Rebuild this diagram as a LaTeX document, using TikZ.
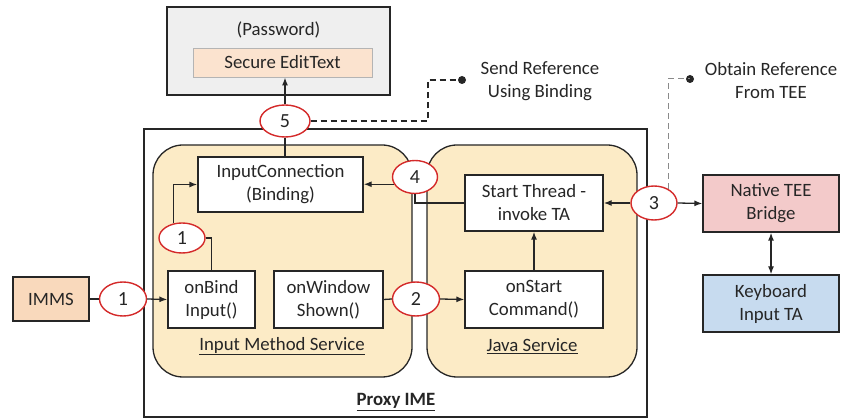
\documentclass[tikz,border=0pt]{standalone}
\usepackage{fontspec}
\setmainfont{Carlito}
\usetikzlibrary{arrows.meta,shapes.geometric,calc}

\definecolor{ink}{HTML}{262626}
\definecolor{pwdgray}{HTML}{EFEFEF}
\definecolor{peach}{HTML}{FBE3CF}
\definecolor{immsfill}{HTML}{F9D9BC}
\definecolor{svcfill}{HTML}{FCEBC6}
\definecolor{teefill}{HTML}{F3CACA}
\definecolor{kbfill}{HTML}{C7DBEF}
\definecolor{stepred}{HTML}{D42A2A}
\definecolor{edgegray}{HTML}{B4B4B4}
\definecolor{dashgray}{HTML}{8A8A8A}

\begin{document}
\begin{tikzpicture}[x=1pt,y=-1pt,
  txt/.style={font=\fontsize{18.8}{23}\selectfont, align=center, text=ink},
  blk/.style={txt, draw=ink, line width=1.3pt, inner sep=0pt},
  whitebox/.style={blk, fill=white},
  svcbox/.style={draw=ink, line width=1.3pt, fill=svcfill, rounded corners=30pt, inner sep=0pt},
  stepmark/.style={ellipse, draw=stepred, line width=1.4pt, fill=white, inner sep=0pt,
    minimum width=47pt, minimum height=34pt, font=\fontsize{20}{20}\selectfont, text=ink},
  wire/.style={draw=ink, line width=1.3pt},
  arr/.style={wire, -{Latex[length=8pt,width=6pt]}},
  dblarr/.style={wire, {Latex[length=8pt,width=6pt]}-{Latex[length=8pt,width=6pt]}},
  dashline/.style={draw=ink, line width=1.3pt, dash pattern=on 6pt off 4pt},
  dashlight/.style={draw=dashgray, line width=1pt, dash pattern=on 6pt off 4pt},
]
\useasboundingbox (0,0) rectangle (843,419);

% password field with its secure text box
\node[blk, fill=pwdgray, minimum width=223pt, minimum height=88pt] (pwd) at (278.5,51) {};
\node[txt] (pwdtitle) at (278.5,30) {(Password)};
\node[txt, draw=edgegray, line width=0.8pt, fill=peach, inner sep=0pt,
      minimum width=179pt, minimum height=29pt] (sec) at (282.5,62.5) {Secure EditText};

% proxy IME container
\node[draw=ink, line width=1.3pt, minimum width=503pt, minimum height=288pt, inner sep=0pt] (proxy) at (395.5,273) {};
\node[txt] (proxytitle) at (396,402) {\underline{\textbf{Proxy IME}}};

% the two services
\node[svcbox, minimum width=259pt, minimum height=232pt] (ims) at (282.5,261) {};
\node[svcbox, minimum width=210pt, minimum height=232pt] (java) at (532,261) {};
\node[txt] (imslabel) at (282,346) {\underline{Input Method Service}};
\node[txt] (javalabel) at (532,346) {\underline{Java Service}};

% components
\node[whitebox, minimum width=165pt, minimum height=55pt] (ic) at (280.5,184.5) {InputConnection\\(Binding)};
\node[whitebox, minimum width=87pt, minimum height=57pt] (obi) at (211.5,299.5) {onBind\\Input()};
\node[whitebox, minimum width=109pt, minimum height=57pt] (ows) at (328.5,299.5) {onWindow\\Shown()};
\node[whitebox, minimum width=138pt, minimum height=56pt] (st) at (534,203) {Start Thread -\\invoke TA};
\node[whitebox, minimum width=138pt, minimum height=57pt] (osc) at (534,299.5) {onStart\\Command()};

% outside parties
\node[blk, fill=immsfill, minimum width=76pt, minimum height=44pt] (imms) at (51,299) {IMMS};
\node[blk, fill=teefill, minimum width=136pt, minimum height=57pt] (nte) at (771,203.5) {Native TEE\\Bridge};
\node[blk, fill=kbfill, minimum width=136pt, minimum height=57pt] (kb) at (771,303.5) {Keyboard\\Input TA};

% step markers
\node[stepmark, minimum width=50pt, minimum height=32pt] (s5) at (285,121) {5};
\node[stepmark] (s1) at (123,299) {1};
\node[stepmark, minimum width=46pt, minimum height=30pt] (s1b) at (182,238) {1};
\node[stepmark] (s2) at (416,299) {2};
\node[stepmark, minimum width=45pt, minimum height=33pt] (s4) at (415,177) {4};
\node[stepmark, minimum width=46pt, minimum height=34pt] (s3) at (654,203) {3};

% annotations
\coordinate (dot1) at (462,80);
\coordinate (dot2) at (690,79);
\fill[ink] (dot1) circle (4pt);
\fill[ink] (dot2) circle (4pt);
\node[txt] (sendref) at (540,81) {Send Reference\\Using Binding};
\node[txt] (obtainref) at (771,81) {Obtain Reference\\From TEE};
\draw[dashline] (s5.east) -| ($(dot1)+(-34,0)$) -- (dot1);
\draw[dashlight] (s3.45) |- (dot2);

% connectors
\draw[wire] (imms.east) -- (s1.west);
\draw[arr] (s1.east) -- (obi.west);
\draw[wire] (s1b.east) -| (obi.north);
\draw[arr] (s1b.120) |- (ic.west);
\draw[wire] (ows.east) -- (s2.west);
\draw[arr] (s2.east) -- (osc.west);
\draw[arr] (osc.north) -- (st.south);
\draw[wire] (st.west) -| (s4.south);
\draw[arr] (s4.199) -- (s4.199 -| ic.east);
\draw[arr] (s3.west) -- (st.east);
\draw[arr] (s3.east) -- (nte.west);
\draw[dblarr] (nte.south) -- (kb.north);
\draw[wire] (s5.south) -- (s5.south |- ic.north);
\draw[arr] (s5.north) -- (s5.north |- sec.south);
\end{tikzpicture}
\end{document}
